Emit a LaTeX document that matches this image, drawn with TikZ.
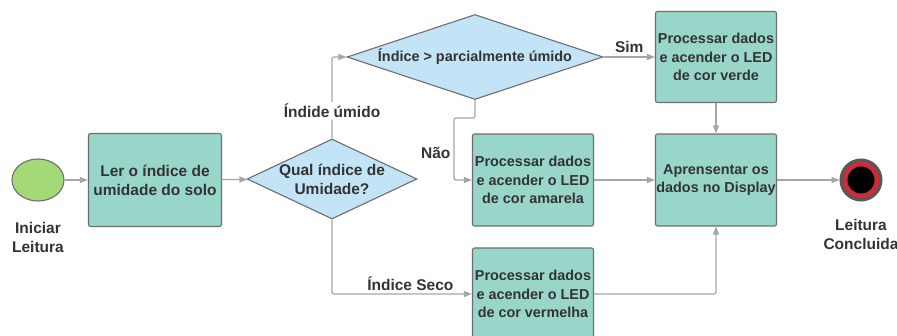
\documentclass[tikz,border=0pt]{standalone}
\usepackage{fontspec}
\setmainfont{Liberation Sans}
\usetikzlibrary{shapes.geometric,arrows.meta}
\definecolor{caixa}{HTML}{99D6CA}
\definecolor{losango}{HTML}{C2E4F6}
\definecolor{inicio}{HTML}{A3D977}
\definecolor{borda}{HTML}{6E6E6E}
\definecolor{linha}{HTML}{A6A6A6}
\definecolor{texto}{HTML}{333333}
\definecolor{anel}{HTML}{C92D39}
\begin{document}
\begin{tikzpicture}[x=1pt, y=-1pt,
	every node/.style={font=\bfseries\fontsize{15.5}{19}\selectfont, text=texto, align=center, inner sep=1pt},
	caixa/.style={rectangle, rounded corners=2pt, draw=borda, line width=1.1pt, fill=caixa, minimum width=121pt, minimum height=92pt, inner sep=0pt, font=\bfseries\fontsize{14.4}{18.5}\selectfont},
	losango/.style={diamond, draw=borda, line width=1.1pt, fill=losango},
	seta/.style={draw=linha, line width=1.2pt, rounded corners=2pt, -{Triangle[length=8pt, width=6pt]}},
	rotulo/.style={fill=white, inner sep=2pt}]
			\useasboundingbox (0,0) rectangle (897,336);
			\node[ellipse, draw=borda, line width=1.1pt, fill=inicio, minimum width=52pt, minimum height=42pt] (ini) at (38,180) {};
			\node (inilbl) at (38,237) {Iniciar\\Leitura};
			\node[caixa, minimum width=133pt, minimum height=93pt, font=\bfseries\fontsize{15.5}{19}\selectfont] (ler) at (155,180) {Ler o índice de\\umidade do solo};
			\node[losango, minimum width=170pt, minimum height=80pt, label={[align=center]center:Qual índice de\\Umidade?}] (qual) at (332,179) {};
			\node[losango, minimum width=256pt, minimum height=85pt, label={[font=\bfseries\fontsize{14.4}{18.5}\selectfont]center:Índice > parcialmente úmido}] (parcial) at (475,57) {};
			\node[caixa, minimum height=91pt] (verde) at (716,57) {Processar dados\\e acender o LED\\de cor verde};
			\node[caixa] (amarela) at (533,180) {Processar dados\\e acender o LED\\de cor amarela};
			\node[caixa] (display) at (716,180) {Aprensentar os\\dados no Display};
			\node[caixa] (vermelha) at (533,294) {Processar dados\\e acender o LED\\de cor vermelha};
			\node[circle, draw=borda!80!black, line width=3pt, fill=anel, minimum size=40pt] (fim) at (861,180) {};
			\fill[black] (fim.center) circle (13.5pt);
			\node (fimlbl) at (861,234) {Leitura\\Concluida};
			
			\foreach \from/\to in {ini/ler,ler/qual,verde/display,amarela/display,display/fim}
			\draw[seta] (\from) -- (\to);
			\draw[seta] (qual.north) |- node[rotulo, pos=0.17] {Índide úmido} (parcial.west);
			\draw[seta] (parcial.east) -- node[above, inner sep=4pt] {Sim} (verde.west);
			\draw[seta] (parcial.south) |- ++(-21,18) |- node[left, pos=0.28, inner sep=3pt] {Não} (amarela.west);
			\draw[seta] (qual.south) |- node[above, pos=0.78, inner sep=3pt] {Índice Seco} (vermelha.west);
			\draw[seta] (vermelha.east) -| (display.south);
			\end{tikzpicture}
\end{document}
